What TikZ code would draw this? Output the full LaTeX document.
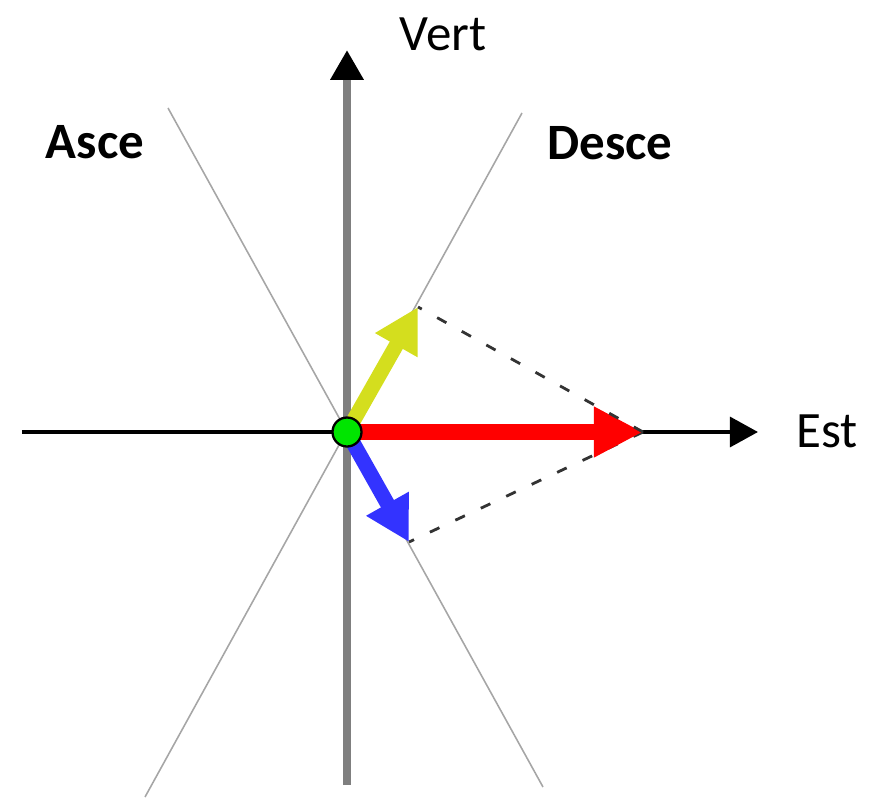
\documentclass[tikz,border=0pt]{standalone}
\usepackage{fontspec}
\setmainfont{Carlito}
\usepackage{tikz}
\usetikzlibrary{arrows.meta}

\definecolor{jaune}{RGB}{212,222,30}
\definecolor{bleu}{RGB}{51,51,255}
\definecolor{gris}{RGB}{127,127,127}

\begin{document}
\begin{tikzpicture}[
    guide/.style={draw=black!35, line width=0.9pt},
    proj/.style={draw=black!80, line width=1.6pt, dash pattern=on 6pt off 10pt},
    vecteur/.style={line width=8.5pt, -{Triangle[length=25pt, width=26pt]}},
    etiquette/.style={anchor=base, font=\fontsize{29}{34}\selectfont}
]
\useasboundingbox (-6.94,-7.32) rectangle (10.68,8.64);

% points
\coordinate (O) at (0,0);
\coordinate (ouest) at (-6.5,0);
\coordinate (est) at (8.22,0);
\coordinate (sud) at (0,-7.06);
\coordinate (nord) at (0,7.64);
\coordinate (asceH) at (-3.58,6.48);
\coordinate (asceB) at (3.92,-7.1);
\coordinate (desceH) at (3.5,6.38);
\coordinate (desceB) at (-4.04,-7.3);
\coordinate (R) at (5.92,0);
\coordinate (J) at (1.42,2.5);
\coordinate (B) at (1.24,-2.2);

% directions
\draw[guide] (asceH) -- (asceB);
\draw[guide] (desceH) -- (desceB);

% axes
\draw[line width=2.2pt, -{Triangle[length=16pt, width=17pt]}] (ouest) -- (est);
\draw[gris, line width=4.5pt, -{Triangle[length=17pt, width=18pt, color=black]}] (sud) -- (nord);

% projections
\draw[proj] (R) -- (B);

% vecteurs
\draw[vecteur, jaune] (O) -- (J);
\draw[vecteur, bleu] (O) -- (B);
\draw[red, line width=9pt, -{Triangle[length=28pt, width=27pt]}] (O) -- (R);
\draw[proj] (R) -- (J);
\node[circle, fill=green!90!black, draw=black, line width=1.3pt, minimum size=0.58cm, inner sep=0pt] (centre) at (O) {};

% textes
\node[etiquette] (vert) at (1.92,7.62) {Vert};
\node[etiquette] (lEst) at (9.6,-0.3) {Est};
\node[etiquette, font=\fontsize{29}{34}\selectfont\bfseries] (asce) at (-5.04,5.48) {Asce};
\node[etiquette, font=\fontsize{29}{34}\selectfont\bfseries] (desce) at (5.26,5.44) {Desce};
\end{tikzpicture}
\end{document}
